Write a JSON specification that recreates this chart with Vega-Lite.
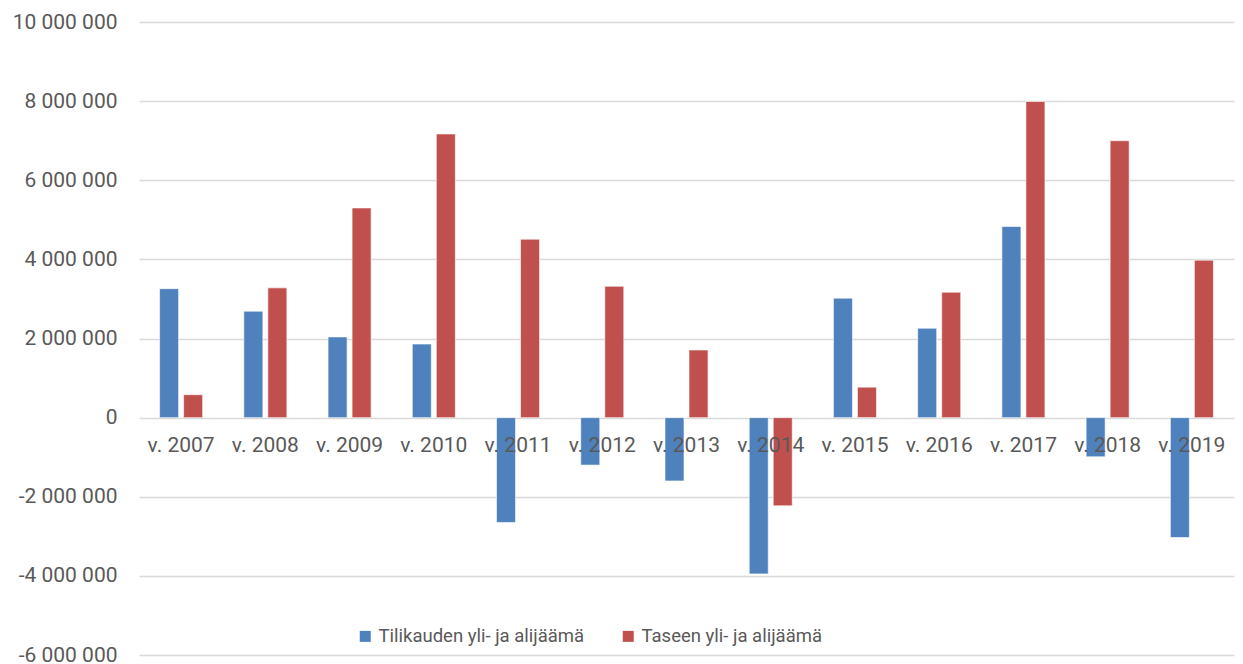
{
  "$schema": "https://vega.github.io/schema/vega-lite/v6.json",
  "width": 1095,
  "height": 633,
  "autosize": {"type": "none"},
  "padding": {"left": 139, "top": 22, "right": 9, "bottom": 9},
  "config": {
    "view": {"stroke": null},
    "locale": {"number": {"decimal": ",", "thousands": " ", "grouping": [3], "currency": ["", " €"], "minus": "-"}}
  },
  "data": {
    "values": [
      {"year": "v. 2007", "series": "Tilikauden yli- ja alijäämä", "value": 3260000},
      {"year": "v. 2007", "series": "Taseen yli- ja alijäämä", "value": 580000},
      {"year": "v. 2008", "series": "Tilikauden yli- ja alijäämä", "value": 2690000},
      {"year": "v. 2008", "series": "Taseen yli- ja alijäämä", "value": 3280000},
      {"year": "v. 2009", "series": "Tilikauden yli- ja alijäämä", "value": 2040000},
      {"year": "v. 2009", "series": "Taseen yli- ja alijäämä", "value": 5300000},
      {"year": "v. 2010", "series": "Tilikauden yli- ja alijäämä", "value": 1860000},
      {"year": "v. 2010", "series": "Taseen yli- ja alijäämä", "value": 7170000},
      {"year": "v. 2011", "series": "Tilikauden yli- ja alijäämä", "value": -2650000},
      {"year": "v. 2011", "series": "Taseen yli- ja alijäämä", "value": 4510000},
      {"year": "v. 2012", "series": "Tilikauden yli- ja alijäämä", "value": -1200000},
      {"year": "v. 2012", "series": "Taseen yli- ja alijäämä", "value": 3320000},
      {"year": "v. 2013", "series": "Tilikauden yli- ja alijäämä", "value": -1600000},
      {"year": "v. 2013", "series": "Taseen yli- ja alijäämä", "value": 1710000},
      {"year": "v. 2014", "series": "Tilikauden yli- ja alijäämä", "value": -3950000},
      {"year": "v. 2014", "series": "Taseen yli- ja alijäämä", "value": -2230000},
      {"year": "v. 2015", "series": "Tilikauden yli- ja alijäämä", "value": 3020000},
      {"year": "v. 2015", "series": "Taseen yli- ja alijäämä", "value": 770000},
      {"year": "v. 2016", "series": "Tilikauden yli- ja alijäämä", "value": 2260000},
      {"year": "v. 2016", "series": "Taseen yli- ja alijäämä", "value": 3170000},
      {"year": "v. 2017", "series": "Tilikauden yli- ja alijäämä", "value": 4830000},
      {"year": "v. 2017", "series": "Taseen yli- ja alijäämä", "value": 7990000},
      {"year": "v. 2018", "series": "Tilikauden yli- ja alijäämä", "value": -990000},
      {"year": "v. 2018", "series": "Taseen yli- ja alijäämä", "value": 7000000},
      {"year": "v. 2019", "series": "Tilikauden yli- ja alijäämä", "value": -3030000},
      {"year": "v. 2019", "series": "Taseen yli- ja alijäämä", "value": 3980000}
    ]
  },
  "mark": {"type": "bar", "stroke": "#ffffff", "strokeOpacity": 0.6, "strokeWidth": 1},
  "encoding": {
    "x": {
      "field": "year",
      "type": "nominal",
      "sort": null,
      "scale": {"paddingInner": 0.489, "paddingOuter": 0.2445},
      "axis": {
        "title": null,
        "orient": "bottom",
        "offset": -237,
        "domain": false,
        "ticks": false,
        "labelAngle": 0,
        "labelPadding": 16,
        "labelFont": "Roboto",
        "labelFontSize": 21,
        "labelColor": "#595959",
        "zindex": 1
      }
    },
    "xOffset": {
      "field": "series",
      "type": "nominal",
      "sort": ["Tilikauden yli- ja alijäämä", "Taseen yli- ja alijäämä"],
      "scale": {"paddingInner": 0.208, "paddingOuter": 0}
    },
    "y": {
      "field": "value",
      "type": "quantitative",
      "scale": {"domain": [-6000000, 10000000], "nice": false},
      "axis": {
        "title": null,
        "values": [-6000000, -4000000, -2000000, 0, 2000000, 4000000, 6000000, 8000000, 10000000],
        "format": ",d",
        "domain": false,
        "ticks": false,
        "labelPadding": 22,
        "labelFont": "Roboto",
        "labelFontSize": 21,
        "labelColor": "#595959",
        "gridColor": "#d9d9d9",
        "gridWidth": 1.3
      }
    },
    "color": {
      "field": "series",
      "type": "nominal",
      "sort": ["Tilikauden yli- ja alijäämä", "Taseen yli- ja alijäämä"],
      "scale": {"range": ["#4f81bd", "#c0504d"]},
      "legend": {
        "title": null,
        "orient": "none",
        "legendX": 217,
        "legendY": 605,
        "direction": "horizontal",
        "symbolType": "square",
        "symbolSize": 121,
        "symbolStrokeWidth": 0,
        "labelFont": "Roboto",
        "labelFontSize": 18.5,
        "labelLimit": 0,
        "labelColor": "#595959",
        "labelOffset": 4,
        "columnPadding": 34
      }
    }
  }
}
